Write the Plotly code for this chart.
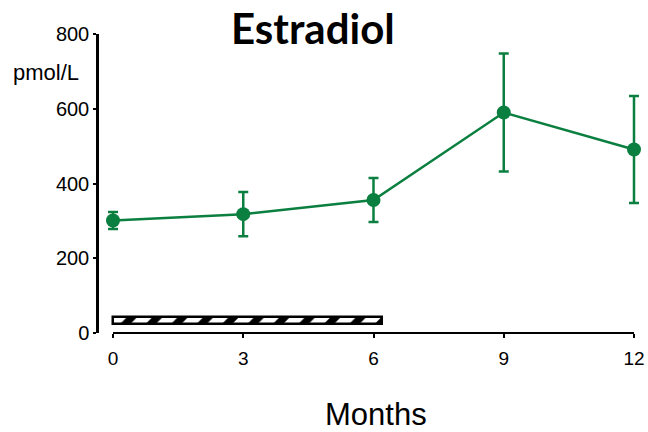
import plotly.graph_objects as go

months = [0, 3, 6, 9, 12]
estradiol = [301, 318, 356, 590, 491]
sem = [23, 59, 59, 158, 143]
treatment_start = 0
treatment_end = 6.2
x_ticks = [0, 3, 6, 9, 12]
y_ticks = [0, 200, 400, 600, 800]

GREEN = "#0B7F3F"

# geometry (pixels)
L, R, T, B = 97, 5, 34, 99
W, H = 648, 432
pw = W - L - R
ph = H - T - B
x0_px, x12_px = 113, 634
ppu = (x12_px - x0_px) / 12.0
xr = [-(x0_px - L) / ppu, 12 + (W - R - x12_px) / ppu]

fig = go.Figure()

fig.add_trace(go.Bar(
    x=[treatment_end - treatment_start], y=[33], base=[treatment_start],
    orientation="h", width=[20],
    marker=dict(color="black", line=dict(color="black", width=2.5),
                pattern=dict(shape="/", bgcolor="black", fgcolor="white",
                             size=18, solidity=0.6, fillmode="replace")),
    showlegend=False, hoverinfo="skip",
))

fig.add_trace(go.Scatter(
    x=months, y=estradiol, mode="lines+markers",
    line=dict(color=GREEN, width=2.5),
    marker=dict(color=GREEN, size=14),
    error_y=dict(type="data", array=sem, visible=True, color=GREEN,
                 thickness=2.5, width=5),
    cliponaxis=False, showlegend=False,
))

fig.update_layout(
    width=W, height=H,
    margin=dict(l=L, r=R, t=T, b=B, autoexpand=False),
    paper_bgcolor="white", plot_bgcolor="white",
    font=dict(family="Liberation Sans, Arial, sans-serif", color="black", size=20),
    bargap=0,
    xaxis=dict(range=xr, domain=[0, 1],
               tickvals=x_ticks, ticktext=[str(v) for v in x_ticks],
               showline=False,
               ticks="outside", ticklen=4, tickwidth=2, tickcolor="black",
               ticklabelstandoff=4,
               showgrid=False, zeroline=False, automargin=False,
               tickfont=dict(size=19)),
    yaxis=dict(range=[0, 800], anchor="free", position=0,
               tickvals=y_ticks, ticktext=[str(v) for v in y_ticks],
               showline=True, linecolor="black", linewidth=2.5,
               ticks="outside", ticklen=3, tickwidth=2, tickcolor="black",
               showgrid=False, zeroline=False, automargin=False,
               tickfont=dict(size=20)),
    shapes=[dict(type="line", xref="x", yref="paper", x0=0, x1=12, y0=0, y1=0,
                 line=dict(color="black", width=2))],
    annotations=[
        dict(text="<b>Estradiol</b>", xref="paper", yref="paper",
             x=(313 - L) / pw, y=(H - B - 28) / ph,
             xanchor="center", yanchor="middle",
             showarrow=False, font=dict(family="Lato, sans-serif", size=42)),
        dict(text="pmol/L", xref="paper", yref="paper",
             x=(11 - L) / pw, y=(H - B - 72) / ph,
             xanchor="left", yanchor="middle", showarrow=False, font=dict(size=22)),
        dict(text="Months", xref="paper", yref="paper",
             x=(376 - L) / pw, y=(H - B - 414) / ph,
             xanchor="center", yanchor="middle",
             showarrow=False, font=dict(size=31)),
    ],
)

fig.write_html("out.html")
